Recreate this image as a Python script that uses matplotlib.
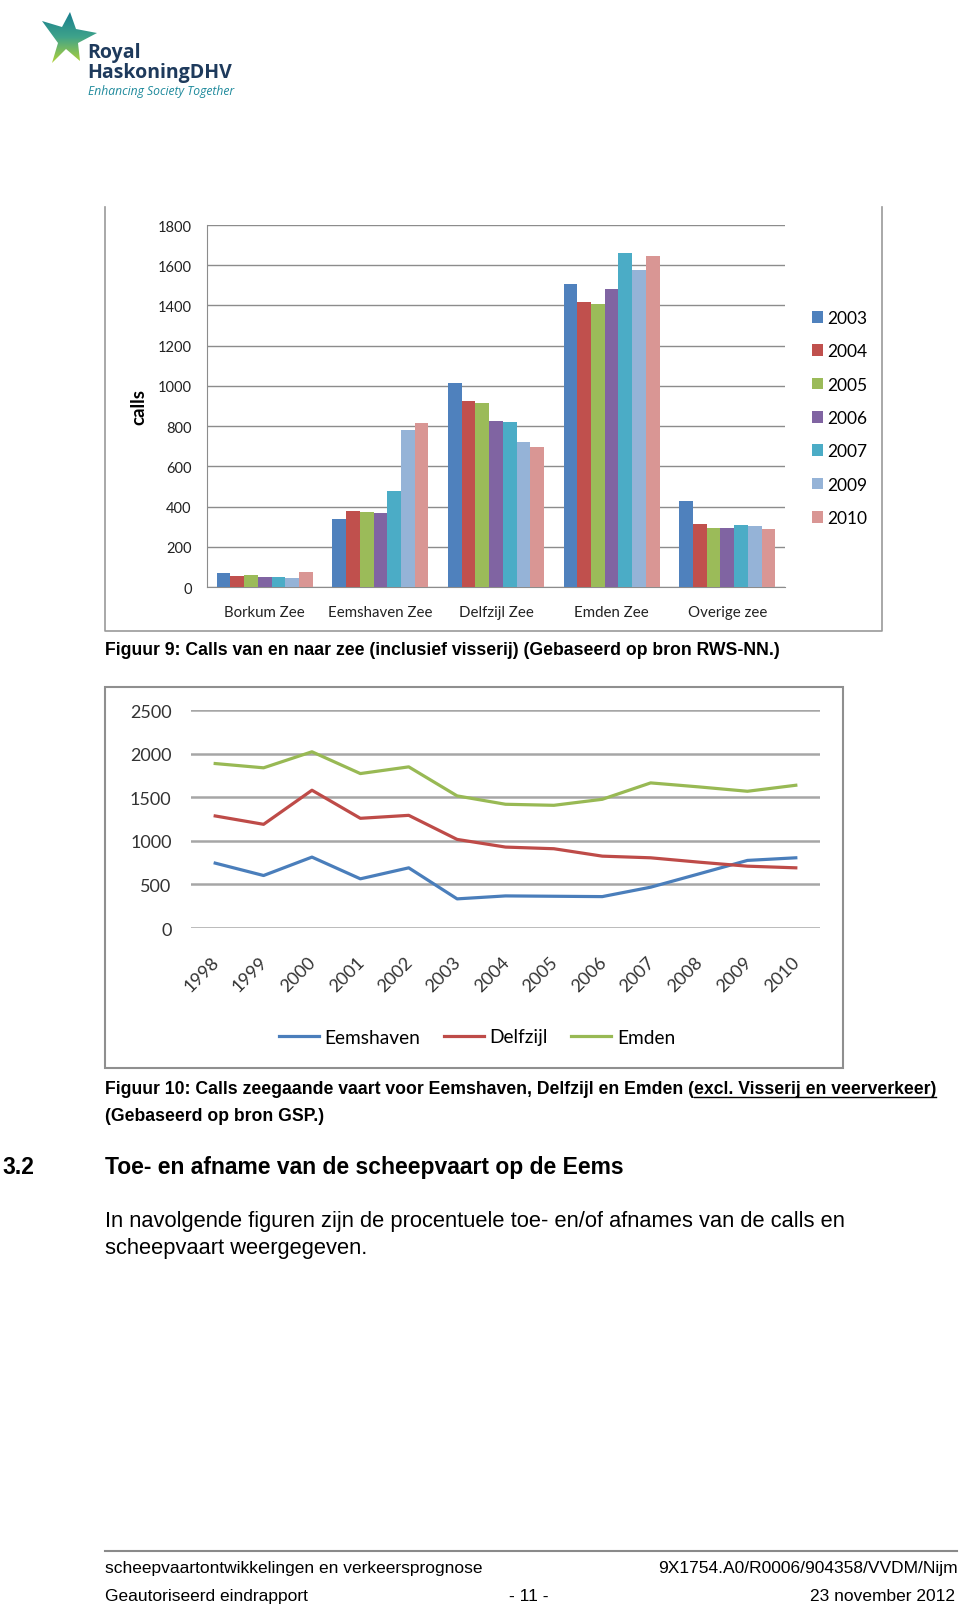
import numpy as np
import matplotlib
matplotlib.use("Agg")
import matplotlib.pyplot as plt
import matplotlib.transforms as mtransforms
from matplotlib.patches import Polygon, Rectangle

W, H = 960, 1608

# --- figuur 9: calls van en naar zee
harbours = ["Borkum Zee", "Eemshaven Zee", "Delfzijl Zee", "Emden Zee", "Overige zee"]
bar_years = ["2003", "2004", "2005", "2006", "2007", "2009", "2010"]
calls_2003 = [68, 339, 1015, 1507, 429]
calls_2004 = [56, 378, 924, 1419, 315]
calls_2005 = [61, 373, 916, 1406, 295]
calls_2006 = [48, 366, 826, 1482, 295]
calls_2007 = [51, 479, 820, 1661, 310]
calls_2009 = [43, 782, 719, 1576, 301]
calls_2010 = [76, 815, 695, 1646, 290]
bar_colors = ["#4F81BD", "#C0504D", "#9BBB59", "#8064A2", "#4BACC6", "#95B3D7", "#D99694"]

# --- figuur 10: calls zeegaande vaart
line_years = ["1998", "1999", "2000", "2001", "2002", "2003", "2004",
              "2005", "2006", "2007", "2008", "2009", "2010"]
eemshaven = [744, 602, 813, 564, 690, 334, 368, 364, 360, 468, 621, 775, 805]
delfzijl = [1285, 1189, 1580, 1258, 1292, 1016, 928, 909, 824, 805, 755, 709, 690]
emden = [1886, 1837, 2021, 1771, 1848, 1515, 1419, 1407, 1476, 1664, 1618, 1568, 1637]

CHART_FONT = ["Lato", "DejaVu Sans"]
PAGE_FONT = ["Liberation Sans", "DejaVu Sans"]
NARROW_FONT = ["Liberation Sans Narrow", "Liberation Sans"]
LOGO_FONT = ["Open Sans", "DejaVu Sans"]

fig = plt.figure(figsize=(W / 100, H / 100), dpi=100)
fig.patch.set_facecolor("white")

page = fig.add_axes([0, 0, 1, 1])
page.set_xlim(0, W)
page.set_ylim(H, 0)
page.axis("off")


def px_axes(x0, y0, x1, y1):
    return fig.add_axes([x0 / W, 1 - y1 / H, (x1 - x0) / W, (y1 - y0) / H])


# logo
star = np.array([[42, 22], [62, 28], [70, 13], [76, 30], [97, 34],
                 [78, 44], [80, 62], [66, 50], [52, 64], [58, 44]])
logo = px_axes(0, 0, W, H)
logo.set_xlim(0, W)
logo.set_ylim(H, 0)
logo.axis("off")
grad = np.linspace(0, 1, 100).reshape(-1, 1)
cmap = matplotlib.colors.LinearSegmentedColormap.from_list("rhd", ["#13798F", "#3FA38A", "#B9D531"])
im = logo.imshow(grad, extent=(40, 100, 66, 10), cmap=cmap, aspect="auto")
poly = Polygon(star, closed=True, transform=logo.transData, facecolor="none", edgecolor="none")
logo.add_patch(poly)
im.set_clip_path(poly)
page.text(87, 53, "Royal", fontsize=14, fontweight="bold", color="#1E3A5C", va="center", family=LOGO_FONT)
page.text(87, 73, "HaskoningDHV", fontsize=14, fontweight="bold", color="#1E3A5C", va="center", family=LOGO_FONT)
page.text(88, 91, "Enhancing Society Together", fontsize=8.7, style="italic", color="#1F8A9C", va="center", family=LOGO_FONT)

# bar chart
page.plot([105, 105, 882, 882], [208, 632, 632, 208], color="#9a9a9a", lw=1.2)
ax1 = px_axes(207, 226, 785, 588)
ax1.set_facecolor("none")
x = np.arange(len(harbours))
bw = 0.1187
series = [calls_2003, calls_2004, calls_2005, calls_2006, calls_2007, calls_2009, calls_2010]
handles = []
for i, vals in enumerate(series):
    b = ax1.bar(x + (i - 3) * bw, vals, bw, color=bar_colors[i], label=bar_years[i], zorder=3)
    handles.append(b)
ax1.set_xlim(-0.5, 4.5)
ax1.set_ylim(0, 1800)
ax1.set_yticks(range(0, 1801, 200))
ax1.set_xticks(x)
ax1.set_xticklabels(harbours)
ax1.grid(axis="y", color="#8c8c8c", lw=1, zorder=0)
for s in ["top", "right"]:
    ax1.spines[s].set_visible(False)
for s in ["left", "bottom"]:
    ax1.spines[s].set_color("#8c8c8c")
ax1.tick_params(axis="y", length=0, pad=11, labelsize=10.5, colors="#222222")
ax1.tick_params(axis="x", length=0, pad=13, labelsize=10.8, colors="#222222")
for t in ax1.get_xticklabels() + ax1.get_yticklabels():
    t.set_family(CHART_FONT)
page.text(139, 407, "calls", rotation=90, fontsize=13.5, fontweight="bold", ha="center", va="center", family=CHART_FONT)
ax1.legend(handles, bar_years, loc="center left", bbox_to_anchor=(812 / W, 1 - 419 / H),
           bbox_transform=fig.transFigure, frameon=False, prop={"family": CHART_FONT, "size": 12.5},
           handlelength=0.65, handleheight=0.65, handletextpad=0.25, labelspacing=1.0,
           borderpad=0, borderaxespad=0)

page.text(105, 651, "Figuur 9: Calls van en naar zee (inclusief visserij) (Gebaseerd op bron RWS-NN.)",
          fontsize=12.7, fontweight="bold", va="center", family=PAGE_FONT)

# line chart
page.add_patch(Rectangle((105, 688), 738, 381, fill=False, edgecolor="#8f8f8f", lw=1.5))
ax2 = px_axes(191, 711, 820, 929)
ax2.set_facecolor("none")
xl = np.arange(len(line_years))
ax2.plot(xl, eemshaven, color="#4A7EBB", lw=2.3, label="Eemshaven")
ax2.plot(xl, delfzijl, color="#BE4B48", lw=2.3, label="Delfzijl")
ax2.plot(xl, emden, color="#98B954", lw=2.3, label="Emden")
ax2.set_xlim(-0.5, 12.5)
ax2.set_ylim(0, 2500)
ax2.set_yticks(range(0, 2501, 500))
ax2.set_xticks(xl)
ax2.set_xticklabels(line_years)
ax2.grid(axis="y", color="#a6a6a6", lw=1.8, zorder=0)
for s in ax2.spines.values():
    s.set_visible(False)
ax2.tick_params(axis="y", length=0, pad=14, labelsize=13, colors="#333333")
ax2.tick_params(axis="x", length=0, pad=18, labelsize=13, colors="#333333")
shift = mtransforms.ScaledTranslation(7 / 100, 0, fig.dpi_scale_trans)
for t in ax2.get_xticklabels():
    t.set_rotation(45)
    t.set_ha("right")
    t.set_transform(t.get_transform() + shift)
for t in ax2.get_xticklabels() + ax2.get_yticklabels():
    t.set_family(CHART_FONT)
ax2.legend(loc="center", bbox_to_anchor=(477 / W, 1 - 1038 / H), bbox_transform=fig.transFigure,
           ncol=3, frameon=False, prop={"family": CHART_FONT, "size": 13.8},
           handlelength=2.1, handletextpad=0.3, columnspacing=1.2, borderpad=0)

# caption figuur 10 with underlined part
r = fig.canvas.get_renderer()
t1 = page.text(105, 1090, "Figuur 10: Calls zeegaande vaart voor Eemshaven, Delfzijl en Emden (",
               fontsize=12.7, fontweight="bold", va="center", family=PAGE_FONT)
bb1 = t1.get_window_extent(r)
t2 = page.text(bb1.x1, 1090, "excl. Visserij en veerverkeer)",
               fontsize=12.7, fontweight="bold", va="center", family=PAGE_FONT)
bb2 = t2.get_window_extent(r)
page.plot([bb2.x0, bb2.x1], [H - bb2.y0 - 1, H - bb2.y0 - 1], color="black", lw=1)
page.text(105, 1117, "(Gebaseerd op bron GSP.)", fontsize=12.7, fontweight="bold", va="center", family=PAGE_FONT)

# heading and paragraph
page.text(2, 1168, "3.2", fontsize=16.5, fontweight="bold", va="center", family=PAGE_FONT)
page.text(105, 1168, "Toe- en afname van de scheepvaart op de Eems", fontsize=16.5, fontweight="bold",
          va="center", family=PAGE_FONT)
page.text(105, 1222, "In navolgende figuren zijn de procentuele toe- en/of afnames van de calls en",
          fontsize=15.75, va="center", family=PAGE_FONT)
page.text(105, 1249, "scheepvaart weergegeven.", fontsize=15.75, va="center", family=PAGE_FONT)

# footer
page.plot([105, 957], [1552, 1552], color="#8a8a8a", lw=1.5)
page.text(105, 1569, "scheepvaartontwikkelingen en verkeersprognose", fontsize=12.5, va="center", family=NARROW_FONT)
page.text(958, 1569, "9X1754.A0/R0006/904358/VVDM/Nijm", fontsize=12.5, va="center", ha="right", family=NARROW_FONT)
page.text(105, 1597, "Geautoriseerd eindrapport", fontsize=12.5, va="center", family=NARROW_FONT)
page.text(529, 1597, "- 11 -", fontsize=12.5, va="center", ha="center", family=NARROW_FONT)
page.text(955, 1597, "23 november 2012", fontsize=12.5, va="center", ha="right", family=NARROW_FONT)

fig.savefig("out.png", dpi=100)
